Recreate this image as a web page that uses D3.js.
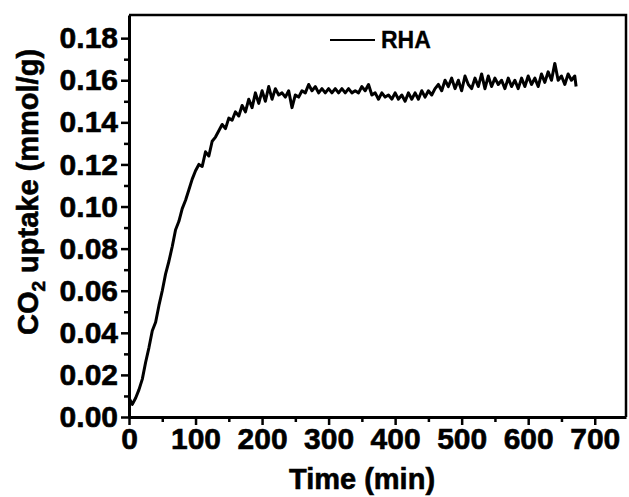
<!DOCTYPE html>
<html>
<head>
	<title>CO2 uptake RHA</title>
	<script src="https://d3js.org/d3.v7.min.js"></script>
	<style type="text/css">
		body {
			margin: 0;
			background: white;
		}
		svg {
			display: block;
		}
		.axis text {
			font-family: "Liberation Sans", Arial, sans-serif;
			font-weight: bold;
			font-size: 30px;
			fill: #000;
			stroke: #000;
			stroke-width: 0.6;
		}
		.axis line {
			stroke: #000;
			stroke-width: 2.5;
		}
		.axis path {
			stroke: #000;
			stroke-width: 3;
		}
		.lbl {
			font-family: "Liberation Sans", Arial, sans-serif;
			font-weight: bold;
			fill: #000;
			stroke: #000;
			stroke-width: 0.6;
		}
	</style>
</head>
<body>
	<script type="text/javascript">

		// Width and height
		var width = 629
		var height = 497

		// plot area (pixels)  -- "top" is taken by window.top, so use plot* names
		var plotLeft = 129, plotRight = 626, plotTop = 15, plotBottom = 417;

		// DATA: time (min) and uptake (mmol/g)
		var timeMin = [0, 5, 10, 15, 20, 25, 30, 35, 40, 45, 50, 55, 60, 65, 70, 75, 80, 85, 90, 95,
			100, 105, 110, 115, 120, 125, 130, 135, 140, 145, 150, 155, 160, 165, 170, 175, 180, 185, 190, 195,
			200, 205, 210, 215, 220, 225, 230, 235, 240, 245, 250, 255, 260, 265, 270, 275, 280, 285, 290, 295,
			300, 305, 310, 315, 320, 325, 330, 335, 340, 345, 350, 355, 360, 365, 370, 375, 380, 385, 390, 395,
			400, 405, 410, 415, 420, 425, 430, 435, 440, 445, 450, 455, 460, 465, 470, 475, 480, 485, 490, 495,
			500, 505, 510, 515, 520, 525, 530, 535, 540, 545, 550, 555, 560, 565, 570, 575, 580, 585, 590, 595,
			600, 605, 610, 615, 620, 625, 630, 635, 640, 645, 650, 655, 660, 665, 670, 672];
		var uptakeRHA = [0.009, 0.006, 0.009, 0.013, 0.018, 0.026, 0.033, 0.041, 0.045, 0.053, 0.060, 0.068, 0.074, 0.081, 0.089, 0.093, 0.099, 0.103, 0.108, 0.113,
			0.117, 0.120, 0.119, 0.126, 0.124, 0.131, 0.133, 0.136, 0.139, 0.137, 0.142, 0.141, 0.145, 0.143, 0.148, 0.145, 0.151, 0.147, 0.154, 0.149,
			0.155, 0.150, 0.157, 0.151, 0.156, 0.153, 0.154, 0.152, 0.155, 0.147, 0.153, 0.152, 0.155, 0.154, 0.158, 0.155, 0.157, 0.154, 0.156, 0.154,
			0.156, 0.154, 0.156, 0.154, 0.156, 0.154, 0.156, 0.154, 0.155, 0.154, 0.157, 0.155, 0.158, 0.153, 0.154, 0.151, 0.154, 0.152, 0.153, 0.151,
			0.154, 0.151, 0.153, 0.150, 0.154, 0.151, 0.154, 0.151, 0.155, 0.152, 0.155, 0.153, 0.156, 0.158, 0.155, 0.160, 0.157, 0.161, 0.156, 0.160,
			0.155, 0.162, 0.158, 0.156, 0.161, 0.157, 0.163, 0.156, 0.162, 0.157, 0.161, 0.158, 0.160, 0.156, 0.161, 0.157, 0.160, 0.156, 0.161, 0.157,
			0.162, 0.158, 0.161, 0.157, 0.163, 0.159, 0.164, 0.160, 0.168, 0.160, 0.162, 0.158, 0.163, 0.160, 0.162, 0.157];

		var xTicks = [0, 100, 200, 300, 400, 500, 600, 700];
		var yTicks = [0, 0.02, 0.04, 0.06, 0.08, 0.10, 0.12, 0.14, 0.16, 0.18];
		var seriesName = "RHA";

		var svg = d3.select("body")
			.append("svg")
			.attr("width", width)
			.attr("height", height);

		var x = d3.scaleLinear()
			.domain([0, 747])
			.range([plotLeft, plotRight]);

		var y = d3.scaleLinear()
			.domain([0, 0.191])
			.range([plotBottom, plotTop]);

		// frame top / right
		svg.append("path")
			.attr("d", "M" + plotLeft + "," + plotTop + "H" + plotRight + "V" + plotBottom)
			.attr("fill", "none")
			.attr("stroke", "#000")
			.attr("stroke-width", 2.5);

		// minor ticks
		svg.append("g")
			.attr("class", "axis")
			.attr("transform", "translate(0," + plotBottom + ")")
			.call(d3.axisBottom(x).tickValues(d3.range(50, 750, 100)).tickSize(5).tickSizeOuter(0).tickFormat(""))
			.select(".domain").remove();
		svg.append("g")
			.attr("class", "axis")
			.attr("transform", "translate(" + plotLeft + ",0)")
			.call(d3.axisLeft(y).tickValues(d3.range(1, 19, 2).map(function(d) { return d / 100; })).tickSize(5).tickSizeOuter(0).tickFormat(""))
			.select(".domain").remove();

		// major axes
		svg.append("g")
			.attr("class", "axis")
			.attr("transform", "translate(0," + plotBottom + ")")
			.call(d3.axisBottom(x).tickValues(xTicks).tickSize(8).tickSizeOuter(0).tickPadding(3));

		svg.append("g")
			.attr("class", "axis")
			.attr("transform", "translate(" + plotLeft + ",0)")
			.call(d3.axisLeft(y).tickValues(yTicks).tickSize(8).tickSizeOuter(0).tickPadding(3).tickFormat(d3.format(".2f")));

		// curve
		var pts = timeMin.map(function(t, i) { return [t, uptakeRHA[i]]; });
		var line = d3.line()
			.x(function(d) { return x(d[0]); })
			.y(function(d) { return y(d[1]); });

		svg.append("path")
			.datum(pts)
			.attr("d", line)
			.attr("fill", "none")
			.attr("stroke", "#000")
			.attr("stroke-width", 3)
			.attr("stroke-linejoin", "round");

		// legend
		svg.append("line")
			.attr("x1", 330).attr("x2", 375)
			.attr("y1", 40).attr("y2", 40)
			.attr("stroke", "#000")
			.attr("stroke-width", 2);
		svg.append("text")
			.attr("class", "lbl")
			.attr("x", 381)
			.attr("y", 48)
			.style("font-size", "23px")
			.style("stroke-width", 0.3)
			.text(seriesName);

		// axis titles
		svg.append("text")
			.attr("class", "lbl")
			.attr("x", 362)
			.attr("y", 489)
			.attr("text-anchor", "middle")
			.style("font-size", "29px")
			.text("Time (min)");

		var yl = svg.append("text")
			.attr("class", "lbl")
			.attr("transform", "translate(38,192) rotate(-90)")
			.attr("text-anchor", "middle")
			.style("font-size", "29px");
		yl.append("tspan").text("CO");
		yl.append("tspan").attr("dy", 7).style("font-size", "19px").text("2");
		yl.append("tspan").attr("dy", -7).text(" uptake (mmol/g)");

	</script>
</body>
</html>
